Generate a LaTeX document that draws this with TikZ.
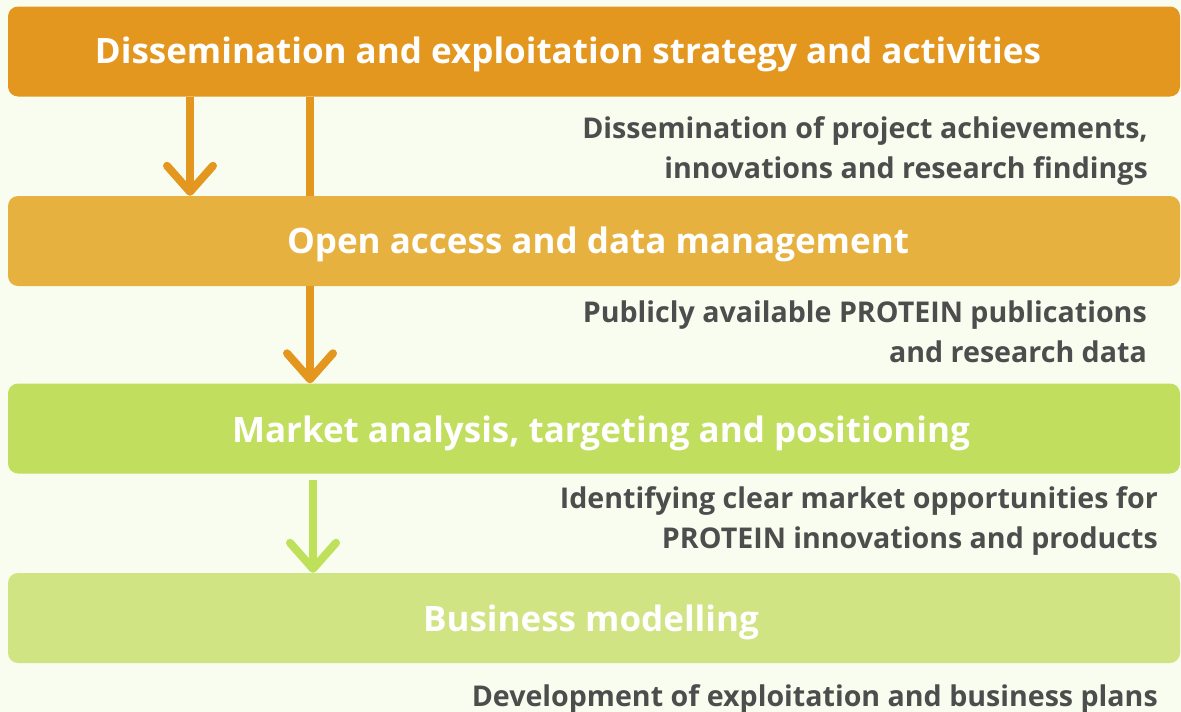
\documentclass[tikz,border=0pt]{standalone}
\usepackage{fontspec}
\setmainfont{Open Sans}
\usetikzlibrary{arrows.meta}

\definecolor{pagebg}{HTML}{F9FDEF}
\definecolor{orangeA}{HTML}{E4971F}
\definecolor{orangeB}{HTML}{E7B13F}
\definecolor{greenA}{HTML}{C2DE5E}
\definecolor{greenB}{HTML}{D0E483}
\definecolor{greenArrow}{HTML}{BEE05A}
\definecolor{notegray}{HTML}{4D4D4D}

\tikzset{
  bar/.style={rounded corners=10pt, minimum width=1172pt, minimum height=90pt, inner sep=0pt},
  title/.style={anchor=base, inner sep=0pt, text=white, font=\bfseries\fontsize{35}{40}\selectfont},
  note/.style={anchor=base east, inner sep=0pt, align=right, text=notegray, font=\bfseries\fontsize{28.6}{40}\selectfont},
  flow/.style={line width=8pt, -{Straight Barb[length=26pt,width=46pt,round]}},
}

\begin{document}
\begin{tikzpicture}[x=1pt,y=-1pt]
\useasboundingbox (0,0) rectangle (1181,712);
\fill[pagebg] (0,0) rectangle (1181,712);

% bars
\node[bar, fill=orangeA] (b1) at (594,51.5) {};
\node[bar, fill=orangeB] (b2) at (594,241) {};
\node[bar, fill=greenA] (b3) at (594,428.5) {};
\node[bar, fill=greenB] (b4) at (594,618) {};

\node[title] (t1) at (568,63) {Dissemination and exploitation strategy and activities};
\node[title] (t2) at (598,253) {Open access and data management};
\node[title] (t3) at (601,442) {Market analysis, targeting and positioning};
\node[title] (t4) at (591,631) {Business modelling};

% notes (base = last line)
\node[note] (n1) at (1148,178) {Dissemination of project achievements,\\innovations and research findings};
\node[note] (n2) at (1147,362) {Publicly available PROTEIN publications\\and research data};
\node[note] (n3) at (1158,548) {Identifying clear market opportunities for\\PROTEIN innovations and products};
\node[note] (n4) at (1158,706) {Development of exploitation and business plans};

% connectors
\coordinate (ca) at (190,0);
\coordinate (cb) at (310,0);
\coordinate (cd) at (313,480);
\draw[flow, orangeA] (b1.south -| ca) -- (b2.north -| ca);
\draw[line width=8pt, orangeA] (b1.south -| cb) -- (b2.north -| cb);
\draw[flow, orangeA] (b2.south -| cb) -- (b3.north -| cb);
\draw[flow, greenArrow] (cd) -- (b4.north -| cd);

\end{tikzpicture}
\end{document}
